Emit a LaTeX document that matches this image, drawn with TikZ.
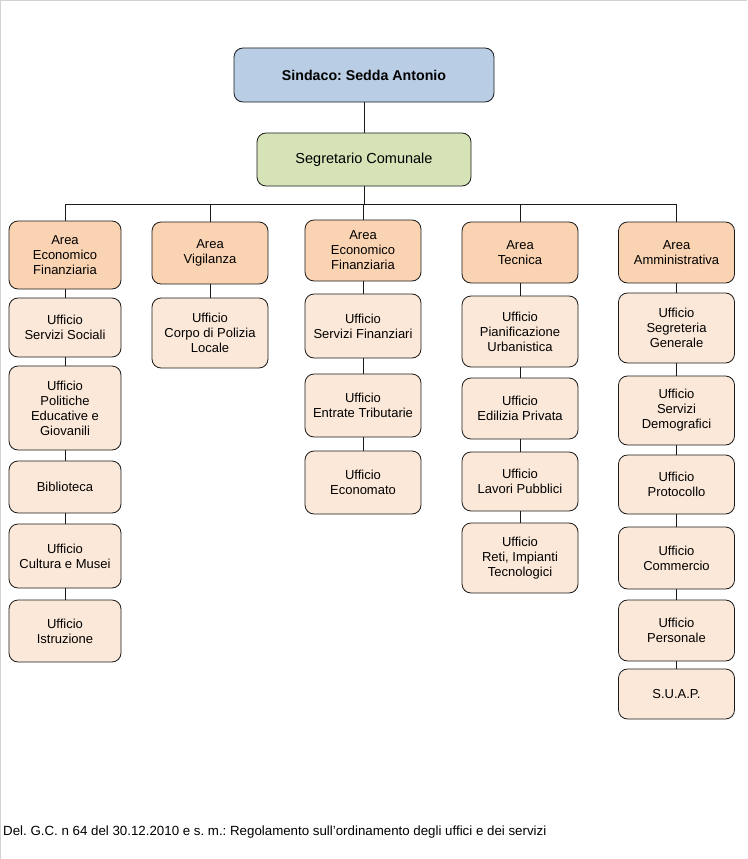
\documentclass[tikz,border=0pt]{standalone}
\usepackage{fontspec}
\setmainfont{Liberation Sans}
\frenchspacing

\definecolor{sindacoblue}{HTML}{B9CDE5}
\definecolor{segrgreen}{HTML}{D5E3B7}
\definecolor{areafill}{HTML}{FAD3B2}
\definecolor{uffill}{HTML}{FCE8D8}
\definecolor{edge}{HTML}{1A1A1A}

\newcommand*{\busy}{204}

\begin{document}
\begin{tikzpicture}
[
	x=1pt,y=-1pt,
	box/.style={draw=edge,line width=0.8pt,rounded corners=9pt,align=center,inner sep=2pt,font=\fontsize{13}{15}\selectfont},
	area/.style={box,fill=areafill,minimum width=116pt},
	uff/.style={box,fill=uffill,minimum width=116pt},
	conn/.style={draw=edge,line width=0.8pt}
]

	% page edge
	\useasboundingbox (0,0) rectangle (747,859);
	\draw[gray!35,line width=1pt] (0.5,859) -- (0.5,0.5) -- (747,0.5);

	% top
	\node[box,fill=sindacoblue,minimum width=260pt,minimum height=54pt,font=\fontsize{14.2}{17}\selectfont\bfseries] (sind) at (364,75) {Sindaco: Sedda Antonio};
	\node[box,fill=segrgreen,minimum width=214pt,minimum height=53pt,font=\fontsize{14.5}{17}\selectfont] (segr) at (364,159.5) {Segretario Comunale};

	% areas
	\node[area,minimum width=112pt,minimum height=68pt] (a1) at (65,255) {Area\\Economico\\Finanziaria};
	\node[area,minimum height=62pt] (a2) at (210,253) {Area\\Vigilanza};
	\node[area,minimum height=61pt] (a3) at (363,250.5) {Area\\Economico\\Finanziaria};
	\node[area,minimum height=61pt] (a4) at (520,252.5) {Area\\Tecnica};
	\node[area,minimum height=61pt] (a5) at (676.5,252.5) {Area\\Amministrativa};

	% first column
	\node[uff,minimum width=112pt,minimum height=59pt] (u11) at (65,327.5) {Ufficio\\Servizi Sociali};
	\node[uff,minimum width=112pt,minimum height=84pt] (u12) at (65,408) {Ufficio\\Politiche\\Educative e\\Giovanili};
	\node[uff,minimum width=112pt,minimum height=52pt] (u13) at (65,487) {Biblioteca};
	\node[uff,minimum width=112pt,minimum height=64pt] (u14) at (65,556) {Ufficio\\Cultura e Musei};
	\node[uff,minimum width=112pt,minimum height=62pt] (u15) at (65,631) {Ufficio\\Istruzione};

	% second column
	\node[uff,minimum height=70pt] (u21) at (210,333) {Ufficio\\Corpo di Polizia\\Locale};

	% third column
	\node[uff,minimum height=64pt] (u31) at (363,326) {Ufficio\\Servizi Finanziari};
	\node[uff,minimum height=63pt] (u32) at (363,405.5) {Ufficio\\Entrate Tributarie};
	\node[uff,minimum height=63pt] (u33) at (363,482.5) {Ufficio\\Economato};

	% fourth column
	\node[uff,minimum height=71pt] (u41) at (520,331.5) {Ufficio\\Pianificazione\\Urbanistica};
	\node[uff,minimum height=61pt] (u42) at (520,408.5) {Ufficio\\Edilizia Privata};
	\node[uff,minimum height=59pt] (u43) at (520,481.5) {Ufficio\\Lavori Pubblici};
	\node[uff,minimum height=70pt] (u44) at (520,558) {Ufficio\\Reti, Impianti\\Tecnologici};

	% fifth column
	\node[uff,minimum height=70pt] (u51) at (676.5,328) {Ufficio\\Segreteria\\Generale};
	\node[uff,minimum height=69pt] (u52) at (676.5,410.5) {Ufficio\\Servizi\\Demografici};
	\node[uff,minimum height=59pt] (u53) at (676.5,484.5) {Ufficio\\Protocollo};
	\node[uff,minimum height=62pt] (u54) at (676.5,558) {Ufficio\\Commercio};
	\node[uff,minimum height=61pt] (u55) at (676.5,630.5) {Ufficio\\Personale};
	\node[uff,minimum height=50pt] (u56) at (676.5,694) {S.U.A.P.};

	% connectors
	\coordinate (bus) at (364,\busy);
	\draw[conn] (sind) -- (segr);
	\draw[conn] (segr) -- (bus);
	\draw[conn] (a1.north) -- (a1.north |- bus) -- (a5.north |- bus) -- (a5.north);
	\draw[conn] (a2.north) -- (a2.north |- bus);
	\draw[conn] (a3.north) -- (a3.north |- bus);
	\draw[conn] (a4.north) -- (a4.north |- bus);

	\draw[conn] (a1) -- (u11) (u11) -- (u12) (u12) -- (u13) (u13) -- (u14) (u14) -- (u15);
	\draw[conn] (a2) -- (u21);
	\draw[conn] (a3) -- (u31) (u31) -- (u32) (u32) -- (u33);
	\draw[conn] (a4) -- (u41) (u41) -- (u42) (u42) -- (u43) (u43) -- (u44);
	\draw[conn] (a5) -- (u51) (u51) -- (u52) (u52) -- (u53) (u53) -- (u54) (u54) -- (u55) (u55) -- (u56);

	% note
	\node[anchor=west,inner sep=0pt,font=\fontsize{13.3}{15}\selectfont] (nota) at (3,832) {Del. G.C. n 64 del 30.12.2010 e s. m.: Regolamento sull'ordinamento degli uffici e dei servizi};

\end{tikzpicture}
\end{document}
